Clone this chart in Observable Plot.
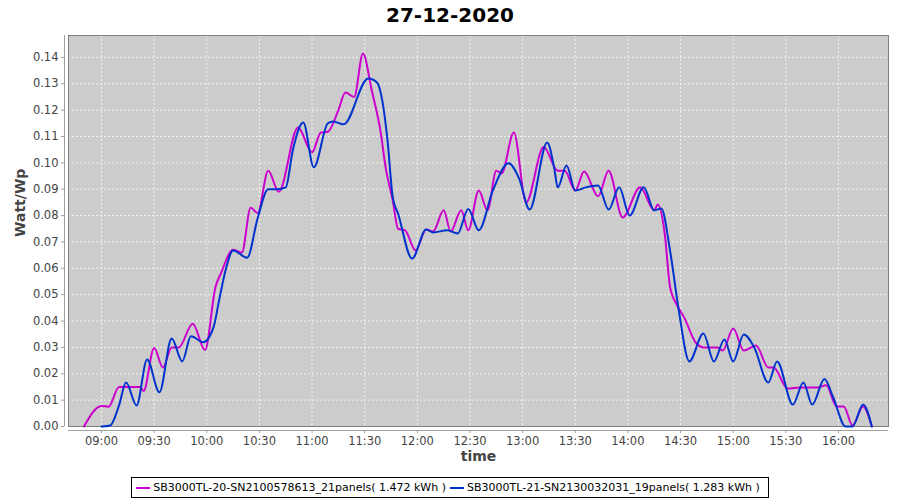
<!DOCTYPE html>
<html>
<head>
<meta charset="utf-8">
<script src="https://cdn.jsdelivr.net/npm/d3@7"></script>
<script src="https://cdn.jsdelivr.net/npm/@observablehq/plot@0.6"></script>
<style>
  body { margin: 0; background: #fff; font-family: "DejaVu Sans", sans-serif; }
  #title { height: 30px; line-height: 30px; text-align: center; font-weight: bold; font-size: 20px; color: #000; }
  #chart svg { display: block; }
  #legend-wrap { position: absolute; top: 477px; left: 0; width: 900px; display: flex; justify-content: center; }
  #legend { display: flex; align-items: center; border: 1px solid #000; padding: 2px 4px; font-size: 11px; height: 15px; line-height: 15px; }
  .item { display: inline-flex; align-items: center; margin-right: 4px; }
  .sw { display: inline-block; width: 14px; height: 2px; margin-right: 3px; }
</style>
</head>
<body>
<div id="title">27-12-2020</div>
<div id="chart"></div>
<div id="legend-wrap"><div id="legend"></div></div>
<script>
const seriesNames = [
  "SB3000TL-20-SN2100578613_21panels( 1.472 kWh )",
  "SB3000TL-21-SN2130032031_19panels( 1.283 kWh )"
];
const seriesColors = ["#cc00cc", "#0033cc"];

const magentaTimes = ["08:50","09:00","09:04","09:10","09:22","09:24","09:30","09:35","09:40","09:44","09:52","09:59","10:05","10:08","10:15","10:20","10:25","10:29","10:35","10:41","10:52","11:00","11:05","11:09","11:15","11:19","11:24","11:29","11:34","11:39","11:42","11:46","11:49","11:53","11:59","12:05","12:09","12:15","12:19","12:25","12:29","12:35","12:40","12:45","12:48","12:55","13:02","13:12","13:20","13:24","13:30","13:35","13:43","13:49","13:57","14:07","14:15","14:17","14:21","14:24","14:28","14:32","14:39","14:43","14:51","14:54","15:00","15:06","15:13","15:20","15:23","15:31","15:38","15:48","15:53","15:59","16:03","16:08","16:14","16:19"];
const magentaValues = [0.000,0.0078,0.0075,0.015,0.015,0.0135,0.0298,0.0224,0.030,0.030,0.039,0.029,0.053,0.058,0.067,0.066,0.083,0.081,0.097,0.089,0.1134,0.104,0.1115,0.1118,0.120,0.1267,0.125,0.1415,0.1275,0.112,0.098,0.0857,0.075,0.0744,0.0668,0.0747,0.074,0.082,0.074,0.082,0.0744,0.0895,0.082,0.097,0.096,0.1115,0.085,0.106,0.097,0.097,0.0895,0.0967,0.0873,0.097,0.0793,0.0907,0.082,0.0842,0.073,0.053,0.046,0.0414,0.0315,0.030,0.030,0.0288,0.0372,0.0288,0.0307,0.0224,0.0224,0.0144,0.0148,0.0148,0.0156,0.0076,0.0076,0.0004,0.0076,0.000];

const blueTimes = ["09:00","09:05","09:10","09:14","09:20","09:26","09:33","09:40","09:46","09:51","09:58","10:04","10:07","10:11","10:15","10:23","10:29","10:35","10:40","10:45","10:49","10:55","11:01","11:09","11:12","11:18","11:32","11:37","11:40","11:43","11:46","11:49","11:57","12:05","12:09","12:17","12:23","12:29","12:35","12:43","12:52","12:58","13:04","13:14","13:18","13:20","13:25","13:30","13:36","13:43","13:49","13:55","14:01","14:09","14:15","14:19","14:24","14:29","14:35","14:43","14:49","14:55","15:00","15:06","15:12","15:20","15:25","15:34","15:40","15:45","15:52","15:57","16:04","16:08","16:14","16:19"];
const blueValues = [0.000,0.0004,0.008,0.0167,0.008,0.0254,0.013,0.0334,0.0247,0.0342,0.032,0.038,0.0478,0.060,0.0668,0.064,0.079,0.090,0.090,0.0907,0.1047,0.1153,0.0983,0.115,0.1157,0.1146,0.132,0.1305,0.1237,0.1085,0.0869,0.0808,0.0637,0.0747,0.0736,0.0744,0.0732,0.0825,0.0744,0.0895,0.0998,0.094,0.0823,0.1077,0.098,0.0907,0.099,0.0895,0.0907,0.0914,0.0823,0.0907,0.080,0.0907,0.082,0.0827,0.0668,0.044,0.0247,0.0353,0.0247,0.033,0.0247,0.0349,0.030,0.0167,0.0247,0.0083,0.0167,0.0083,0.018,0.011,0.000,0.000,0.0083,0.000];

const xTickLabels = ["09:00","09:30","10:00","10:30","11:00","11:30","12:00","12:30","13:00","13:30","14:00","14:30","15:00","15:30","16:00"];
const yTicks = [0.00,0.01,0.02,0.03,0.04,0.05,0.06,0.07,0.08,0.09,0.10,0.11,0.12,0.13,0.14];

const toDate = (s, sec = 0) => {
  const [h, m] = s.split(":").map(Number);
  return new Date(Date.UTC(2020, 11, 27, h, m, sec));
};
const rows = [];
magentaTimes.forEach((t, i) => rows.push({t: toDate(t), v: magentaValues[i], s: seriesNames[0]}));
blueTimes.forEach((t, i) => rows.push({t: toDate(t), v: blueValues[i], s: seriesNames[1]}));
const xTicks = xTickLabels.map(s => toDate(s));
const xDomain = [toDate("08:41", 12), toDate("16:28", 30)];
const yDomain = [0, 0.1483];
const fmtT = d3.utcFormat("%H:%M");
const font = "DejaVu Sans";

const chart = Plot.plot({
  width: 900,
  height: 442,
  marginLeft: 68,
  marginRight: 12,
  marginTop: 5,
  marginBottom: 46,
  style: {fontFamily: font, fontSize: "11px", color: "#333", background: "#fff"},
  x: {type: "utc", domain: xDomain},
  y: {domain: yDomain},
  color: {domain: seriesNames, range: seriesColors},
  marks: [
    Plot.frame({fill: "#cccccc", stroke: null}),
    Plot.gridX(xTicks, {stroke: "#f2f2f2", strokeOpacity: 1, strokeDasharray: "2,2"}),
    Plot.gridY(yTicks, {stroke: "#f2f2f2", strokeOpacity: 1, strokeDasharray: "2,2"}),
    Plot.frame({stroke: "#808080", strokeWidth: 1}),
    Plot.lineY(rows, {x: "t", y: "v", z: "s", stroke: "s", curve: "monotone-x", strokeWidth: 2}),
    Plot.ruleY([0], {dy: 4, stroke: "#a0a0a0"}),
    Plot.ruleX([xDomain[0]], {dx: -4, stroke: "#a0a0a0"}),
    Plot.axisX(xTicks, {tickSize: 3, dy: 4, tickPadding: 3, tickFormat: fmtT, label: null, stroke: "#a0a0a0", fill: "#444", fontSize: 11.5}),
    Plot.axisY(yTicks, {tickSize: 3, dx: -4, tickPadding: 3, tickFormat: d3.format(".2f"), label: null, stroke: "#a0a0a0", fill: "#444", fontSize: 11.5}),
    Plot.text(["time"], {frameAnchor: "bottom", dy: 34, fontSize: 14, fill: "#444", fontWeight: "bold"}),
    Plot.text(["Watt/Wp"], {frameAnchor: "left", dx: -48, dy: 6, rotate: -90, fontSize: 14, fill: "#444", fontWeight: "bold"})
  ]
});
document.getElementById("chart").appendChild(chart);

const legend = document.getElementById("legend");
seriesNames.forEach((n, i) => {
  const it = document.createElement("span");
  it.className = "item";
  const sw = document.createElement("span");
  sw.className = "sw";
  sw.style.background = seriesColors[i];
  it.appendChild(sw);
  const tx = document.createElement("span");
  tx.textContent = n;
  it.appendChild(tx);
  legend.appendChild(it);
});
</script>
</body>
</html>
